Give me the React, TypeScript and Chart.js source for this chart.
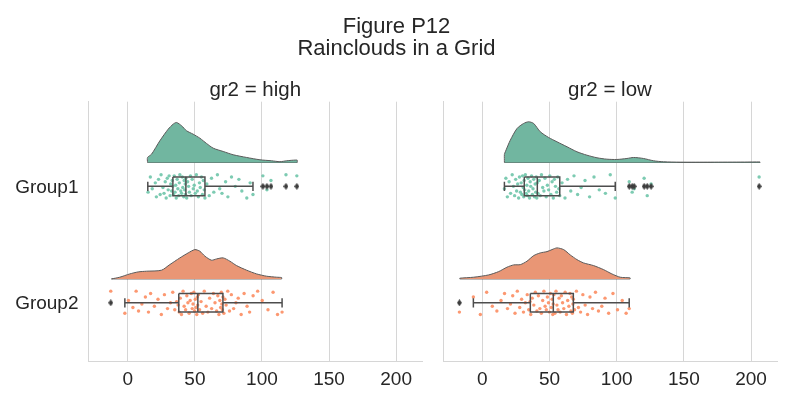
import React, { useEffect, useRef } from "react";
import { Chart, registerables } from "chart.js";

Chart.register(...registerables);

// ---------------- data ----------------
const suptitleLines = ["Figure P12", "Rainclouds in a Grid"];
const categories = ["Group1", "Group2"];
const panelTitles = ["gr2 = high", "gr2 = low"];
const xTicks = [0, 50, 100, 150, 200];
const xMin = -29.3;
const xMax = 219.3;

// cloud (half-violin) densities, arbitrary units, sampled along x
const highG1CloudX = [14.7, 17.7, 23.9, 30.1, 33.8, 36.3, 40.1, 43.8, 48.7, 53.7, 58.7, 63.7, 71.1, 78.6, 88.6, 98.5, 107.2, 113.4, 118.4, 123.4, 126.3];
const highG1CloudD = [5, 8.3, 21.7, 33.3, 38.3, 40, 36.7, 31.7, 28.3, 24.3, 19, 14.3, 11, 7.7, 5, 2.7, 1.7, 0.8, 1.7, 2.3, 2.3];
const highG2CloudX = [-12.2, -6.0, 1.5, 7.7, 13.9, 25.1, 31.3, 38.8, 45.0, 50.0, 53.7, 57.5, 62.4, 66.2, 71.1, 76.1, 81.1, 88.6, 96.0, 103.5, 111.0, 114.7];
const highG2CloudD = [0, 1.7, 5, 7, 7.7, 8.7, 14.3, 21, 26, 29.3, 27.7, 22.7, 18.7, 20, 21, 17.7, 13.3, 8.7, 5, 2.7, 1.7, 1.3];
const lowG1CloudX = [16.4, 17.1, 20.8, 25.8, 30.7, 34.4, 38.2, 43.1, 49.3, 55.5, 63.0, 70.4, 77.8, 85.3, 92.7, 100.1, 107.6, 112.5, 119.9, 127.4, 134.8, 147.2, 170.0, 195.0, 206.7];
const lowG1CloudD = [8, 10.7, 22.3, 34, 39, 40.7, 39, 30.7, 25, 20.7, 15.7, 10.7, 7.3, 4.7, 3.3, 3, 4, 5, 4, 1.7, 0.7, 0.3, 0.3, 0.4, 0.5];
const lowG2CloudX = [-16.8, -6.4, 4.7, 12.1, 18.3, 23.3, 28.3, 33.2, 38.2, 43.1, 48.1, 51.8, 55.5, 60.5, 65.4, 70.4, 75.3, 82.8, 90.2, 96.4, 102.6, 110.0];
const lowG2CloudD = [0.7, 1.7, 4, 7.3, 11.7, 14, 14.3, 17.7, 23.3, 26, 27.3, 29.3, 31, 29.3, 24, 19.3, 16, 13.3, 9.3, 5, 1.7, 1];

// box statistics: [whisker low, Q1, median, Q3, whisker high]
const highG1Box = [14.9, 33.6, 43.3, 57.5, 93.3];
const highG2Box = [-2.2, 38.0, 52.2, 70.9, 115.0];
const lowG1Box = [16.4, 31.2, 40.9, 57.6, 98.9];
const lowG2Box = [-6.7, 35.7, 52.8, 67.7, 109.3];

// outliers
const highG1Out = [100.7, 103.7, 106.7, 117.9, 126.0];
const highG2Out = [-12.7];
const lowG1Out = [109.3, 111.5, 113.0, 120.4, 122.7, 125.6, 206.0];
const lowG2Out = [-17.1];

// rain (strip) values and their vertical jitter (category units)
const highG1RainX = [15.1, 16.8, 18.2, 20.5, 21.3, 22.9, 24.1, 24.8, 26.2, 27.0, 27.9, 28.6, 29.4, 30.1, 30.8, 31.5, 32.0, 32.7, 33.1, 33.5,
  34.0, 34.6, 35.2, 35.7, 36.1, 36.8, 37.3, 37.9, 38.4, 38.8, 39.5, 40.1, 40.6, 41.0, 41.7, 42.0, 42.4, 42.8, 43.0, 43.3,
  43.9, 44.6, 45.3, 45.9, 46.7, 47.2, 48.0, 48.8, 49.5, 50.3, 51.1, 51.8, 52.6, 53.4, 54.0, 54.9, 55.6, 56.3, 57.0, 57.5,
  58.9, 60.7, 62.4, 64.1, 66.8, 68.5, 70.2, 72.9, 74.6, 77.3, 80.1, 82.8, 85.0, 88.7, 91.2, 93.3, 100.7, 103.7, 106.7, 117.9, 126.0];
const highG1RainJ = [0.05, -0.08, 0.02, -0.03, 0.09, -0.06, 0.07, -0.1, 0.01, 0.06, -0.04, 0.1, -0.07, 0.03, -0.09, 0.08, -0.02, 0.04, -0.05, 0.0,
  0.07, -0.09, 0.05, -0.01, 0.1, -0.06, 0.02, 0.08, -0.03, -0.1, 0.04, 0.06, -0.08, 0.01, 0.09, -0.05, 0.03, -0.02, 0.07, -0.07,
  0.1, -0.04, 0.0, 0.05, -0.09, 0.08, -0.06, 0.02, -0.01, 0.06, -0.1, 0.04, 0.09, -0.03, 0.01, -0.08, 0.07, -0.05, 0.03, 0.1,
  -0.02, 0.08, -0.07, 0.05, -0.1, 0.02, 0.06, -0.04, 0.09, -0.08, 0.0, -0.06, 0.04, 0.1, -0.03, 0.07, -0.09, 0.03, -0.05, -0.1, -0.09];

const highG2RainX = [-12.7, -2.2, 0.5, 3.8, 6.2, 8.0, 10.5, 13.1, 15.4, 17.0, 19.8, 22.5, 25.0, 27.3, 29.6, 31.8, 33.5, 35.0, 36.4, 37.5,
  38.3, 39.1, 40.0, 41.2, 42.0, 43.1, 44.0, 44.8, 45.7, 46.5, 47.3, 48.0, 48.6, 49.2, 49.8, 50.3, 50.9, 51.4, 51.8, 52.1,
  52.6, 53.5, 54.6, 55.8, 57.0, 58.4, 59.7, 61.0, 62.5, 63.8, 65.0, 66.2, 67.1, 67.9, 68.6, 69.2, 69.7, 70.1, 70.5, 70.9,
  71.6, 72.4, 73.3, 74.5, 75.8, 77.2, 78.9, 80.6, 82.3, 84.5, 86.7, 88.9, 90.8, 93.4, 96.8, 100.2, 104.5, 108.3, 111.6, 115.0];
const highG2RainJ = [-0.1, 0.09, -0.02, 0.04, -0.1, 0.07, 0.01, -0.05, 0.08, -0.08, 0.03, -0.03, 0.1, -0.07, 0.05, 0.0, -0.09, 0.06, -0.01, 0.02,
  0.08, -0.04, 0.1, -0.1, 0.03, 0.06, -0.06, 0.0, 0.09, -0.02, -0.08, 0.05, 0.01, -0.09, 0.07, -0.03, 0.04, 0.1, -0.05, 0.02,
  -0.07, 0.06, -0.01, 0.09, -0.1, 0.03, 0.08, -0.04, 0.05, -0.08, 0.0, 0.07, -0.06, 0.1, -0.02, 0.04, -0.09, 0.01, 0.06, -0.05,
  0.09, -0.03, 0.02, -0.1, 0.07, -0.07, 0.05, 0.0, -0.04, 0.1, -0.08, 0.03, 0.08, -0.06, -0.1, -0.02, 0.06, -0.09, 0.1, 0.08];

const lowG1RainX = [16.4, 17.5, 18.6, 19.9, 21.0, 22.2, 23.1, 24.0, 24.8, 25.5, 26.3, 27.0, 27.6, 28.3, 28.9, 29.4, 29.9, 30.4, 30.8, 31.1,
  31.5, 32.0, 32.6, 33.1, 33.6, 34.0, 34.5, 35.1, 35.6, 36.0, 36.6, 37.2, 37.7, 38.2, 38.8, 39.3, 39.7, 40.1, 40.5, 40.8,
  41.4, 42.3, 43.1, 44.0, 44.9, 45.8, 46.6, 47.5, 48.4, 49.3, 50.2, 51.0, 51.9, 52.8, 53.6, 54.4, 55.3, 56.1, 56.9, 57.6,
  59.3, 61.5, 63.4, 65.8, 68.2, 70.9, 73.5, 76.4, 79.8, 83.1, 87.0, 91.6, 95.2, 98.9, 109.3, 111.5, 113.0, 120.4, 122.7, 125.6, 206.0];
const lowG1RainJ = [0.02, -0.07, 0.09, -0.04, 0.06, -0.1, 0.0, 0.08, -0.06, 0.04, -0.02, 0.1, -0.08, 0.05, -0.03, 0.07, -0.09, 0.01, 0.09, -0.05,
  0.03, -0.1, 0.06, -0.01, 0.08, -0.07, 0.04, 0.1, -0.04, 0.0, -0.09, 0.07, 0.02, -0.06, 0.09, -0.02, 0.05, -0.08, 0.1, -0.03,
  0.06, -0.05, 0.08, -0.1, 0.01, 0.04, -0.07, 0.09, -0.01, 0.03, -0.09, 0.07, -0.04, 0.1, -0.06, 0.0, 0.05, -0.08, 0.02, 0.08,
  -0.03, 0.1, -0.06, 0.04, -0.09, 0.07, 0.01, -0.05, 0.09, -0.08, 0.03, 0.06, -0.1, 0.1, -0.04, 0.05, 0.02, -0.07, 0.08, -0.02, -0.08];

const lowG2RainX = [-17.1, -6.7, -1.5, 3.2, 7.4, 10.8, 13.9, 16.5, 18.7, 20.9, 22.6, 24.3, 26.0, 27.8, 29.2, 30.6, 32.0, 33.4, 34.5, 35.5,
  36.0, 37.1, 38.3, 39.4, 40.6, 41.7, 42.8, 43.9, 44.9, 45.8, 46.7, 47.6, 48.4, 49.2, 49.9, 50.6, 51.3, 51.9, 52.4, 52.7,
  53.2, 54.0, 54.8, 55.5, 56.3, 57.1, 57.9, 58.8, 59.7, 60.6, 61.6, 62.6, 63.5, 64.4, 65.2, 65.9, 66.5, 67.0, 67.4, 67.7,
  68.6, 70.0, 71.5, 73.1, 74.8, 76.5, 78.3, 80.1, 82.0, 84.2, 86.4, 88.9, 91.3, 94.0, 97.2, 100.6, 104.1, 107.0, 109.3];
const lowG2RainJ = [0.08, -0.05, 0.1, -0.09, 0.03, 0.07, -0.02, -0.08, 0.05, 0.01, -0.06, 0.09, -0.1, 0.04, -0.03, 0.08, 0.0, -0.07, 0.06, -0.01,
  0.1, -0.04, 0.02, -0.09, 0.07, -0.06, 0.05, 0.09, -0.02, -0.1, 0.03, 0.06, -0.05, 0.0, 0.08, -0.08, 0.04, -0.03, 0.1, 0.01,
  -0.07, 0.09, -0.1, 0.02, 0.06, -0.04, 0.08, -0.06, 0.0, 0.05, -0.09, 0.1, -0.02, 0.03, -0.08, 0.07, -0.05, 0.09, 0.01, -0.03,
  0.06, -0.1, 0.04, 0.08, -0.07, 0.02, 0.1, -0.05, 0.05, -0.09, 0.07, 0.03, -0.04, 0.09, -0.08, 0.06, -0.02, 0.09, 0.05];

// ---------------- style ----------------
const FONT = "'Liberation Sans', Arial, Helvetica, sans-serif";
const TEXT = "#262626";
const GRID = "#d6d6d6";
const LINE = "#4d4d4d";
const CLOUD_EDGE = "#5a5a5a";
const CLOUD_COLORS = ["#71b6a0", "#e99675"];
const RAIN_COLORS = ["rgba(102,194,165,0.85)", "rgba(252,141,98,0.9)"];
const CLOUD_OFFSET = -0.205;
const DENSITY_TO_Y = 1 / 116.4;
const BOX_HALF = 0.08;
const CAP_HALF = 0.04;
const Y_MIN = -0.727;
const Y_MAX = 1.5;

type Group = {
  cloudX: number[];
  cloudD: number[];
  box: number[];
  out: number[];
  rainX: number[];
  rainJ: number[];
};

const panels: Group[][] = [
  [
    { cloudX: highG1CloudX, cloudD: highG1CloudD, box: highG1Box, out: highG1Out, rainX: highG1RainX, rainJ: highG1RainJ },
    { cloudX: highG2CloudX, cloudD: highG2CloudD, box: highG2Box, out: highG2Out, rainX: highG2RainX, rainJ: highG2RainJ },
  ],
  [
    { cloudX: lowG1CloudX, cloudD: lowG1CloudD, box: lowG1Box, out: lowG1Out, rainX: lowG1RainX, rainJ: lowG1RainJ },
    { cloudX: lowG2CloudX, cloudD: lowG2CloudD, box: lowG2Box, out: lowG2Out, rainX: lowG2RainX, rainJ: lowG2RainJ },
  ],
];

function makeDiamond(): HTMLCanvasElement {
  const c = document.createElement("canvas");
  c.width = 5;
  c.height = 7;
  const g = c.getContext("2d")!;
  g.fillStyle = "#3d3d3d";
  g.beginPath();
  g.moveTo(2.5, 0);
  g.lineTo(5, 3.5);
  g.lineTo(2.5, 7);
  g.lineTo(0, 3.5);
  g.closePath();
  g.fill();
  return c;
}

function groupDatasets(g: Group, idx: number, diamond: HTMLCanvasElement): any[] {
  const base = idx + CLOUD_OFFSET;
  const n = g.cloudX.length;
  const cloud = [
    { x: g.cloudX[0], y: base },
    ...g.cloudX.map((x, i) => ({ x, y: base - g.cloudD[i] * DENSITY_TO_Y })),
    { x: g.cloudX[n - 1], y: base },
  ];
  const [wl, q1, md, q3, wh] = g.box;
  const seg = (pts: { x: number; y: number }[], color = LINE, width = 1.5, order = 1) => ({
    type: "line",
    data: pts,
    borderColor: color,
    borderWidth: width,
    pointRadius: 0,
    fill: false,
    tension: 0,
    order,
  });
  return [
    {
      type: "line",
      data: cloud,
      borderColor: CLOUD_EDGE,
      borderWidth: 1,
      backgroundColor: CLOUD_COLORS[idx],
      fill: { value: base },
      pointRadius: 0,
      tension: 0.25,
      order: 3,
    },
    seg([{ x: g.cloudX[0], y: base }, { x: g.cloudX[n - 1], y: base }], CLOUD_EDGE, 1, 3),
    {
      type: "scatter",
      data: g.rainX.map((x, i) => ({ x, y: idx + g.rainJ[i % g.rainJ.length] })),
      backgroundColor: RAIN_COLORS[idx],
      borderWidth: 0,
      pointRadius: 1.7,
      order: 2,
    },
    seg([
      { x: q1, y: idx - BOX_HALF },
      { x: q3, y: idx - BOX_HALF },
      { x: q3, y: idx + BOX_HALF },
      { x: q1, y: idx + BOX_HALF },
      { x: q1, y: idx - BOX_HALF },
    ]),
    seg([{ x: md, y: idx - BOX_HALF }, { x: md, y: idx + BOX_HALF }]),
    seg([{ x: wl, y: idx }, { x: q1, y: idx }]),
    seg([{ x: q3, y: idx }, { x: wh, y: idx }]),
    seg([{ x: wl, y: idx - CAP_HALF }, { x: wl, y: idx + CAP_HALF }]),
    seg([{ x: wh, y: idx - CAP_HALF }, { x: wh, y: idx + CAP_HALF }]),
    {
      type: "scatter",
      data: g.out.map((x) => ({ x, y: idx })),
      pointStyle: diamond,
      pointRadius: 3,
      order: 0,
    },
  ];
}

function makeConfig(p: number, diamond: HTMLCanvasElement, yWidth: number): any {
  const showY = p === 0;
  const datasets = panels[p].flatMap((g, i) => groupDatasets(g, i, diamond));
  return {
    type: "scatter",
    data: { datasets },
    options: {
      responsive: false,
      animation: false,
      devicePixelRatio: 1,
      layout: { padding: { left: 0, right: 10, top: 0, bottom: 0 } },
      plugins: {
        legend: { display: false },
        tooltip: { enabled: false },
        title: {
          display: true,
          text: panelTitles[p],
          color: TEXT,
          fullSize: false,
          font: { family: FONT, size: 20.5, weight: "normal", lineHeight: 1 },
          padding: { top: 80.15, bottom: 1.05 },
        },
      },
      scales: {
        x: {
          type: "linear",
          min: xMin,
          max: xMax,
          afterBuildTicks: (s: any) => {
            s.ticks = xTicks.map((v) => ({ value: v }));
          },
          afterFit: (s: any) => {
            s.height = 39;
          },
          grid: { color: GRID, lineWidth: 1, drawTicks: false },
          border: { display: true, color: GRID, width: 1 },
          ticks: {
            color: TEXT,
            font: { family: FONT, size: 19 },
            padding: 7,
            maxRotation: 0,
            autoSkip: false,
          },
        },
        y: {
          type: "linear",
          reverse: true,
          min: Y_MIN,
          max: Y_MAX,
          afterBuildTicks: (s: any) => {
            s.ticks = categories.map((_, i) => ({ value: i }));
          },
          afterFit: (s: any) => {
            s.width = yWidth;
          },
          grid: { display: false, drawTicks: false },
          border: { display: true, color: GRID, width: 1 },
          ticks: {
            display: showY,
            color: TEXT,
            font: { family: FONT, size: 19 },
            padding: 10,
            labelOffset: 1,
            callback: (v: any) => categories[v] ?? "",
          },
        },
      },
    },
  };
}

export default function App() {
  const leftRef = useRef<HTMLCanvasElement>(null);
  const rightRef = useRef<HTMLCanvasElement>(null);

  useEffect(() => {
    const diamond = makeDiamond();
    const c1 = new Chart(leftRef.current!, makeConfig(0, diamond, 88.5));
    const c2 = new Chart(rightRef.current!, makeConfig(1, diamond, 11));
    return () => {
      c1.destroy();
      c2.destroy();
    };
  }, []);

  return (
    <div
      style={{
        position: "absolute",
        left: 0,
        top: 0,
        width: 787,
        height: 400,
        background: "#ffffff",
        overflow: "hidden",
        fontFamily: FONT,
      }}
    >
      <canvas ref={leftRef} width={432} height={400} style={{ position: "absolute", left: 0, top: 0, width: 432, height: 400 }} />
      <canvas ref={rightRef} width={355} height={400} style={{ position: "absolute", left: 432, top: 0, width: 355, height: 400 }} />
      <div
        style={{
          position: "absolute",
          left: 0,
          top: 14.8,
          width: 793,
          textAlign: "center",
          fontSize: 22,
          lineHeight: "21.7px",
          color: TEXT,
          whiteSpace: "pre",
        }}
      >
        {suptitleLines.map((t, i) => (
          <div key={i}>{t}</div>
        ))}
      </div>
    </div>
  );
}
